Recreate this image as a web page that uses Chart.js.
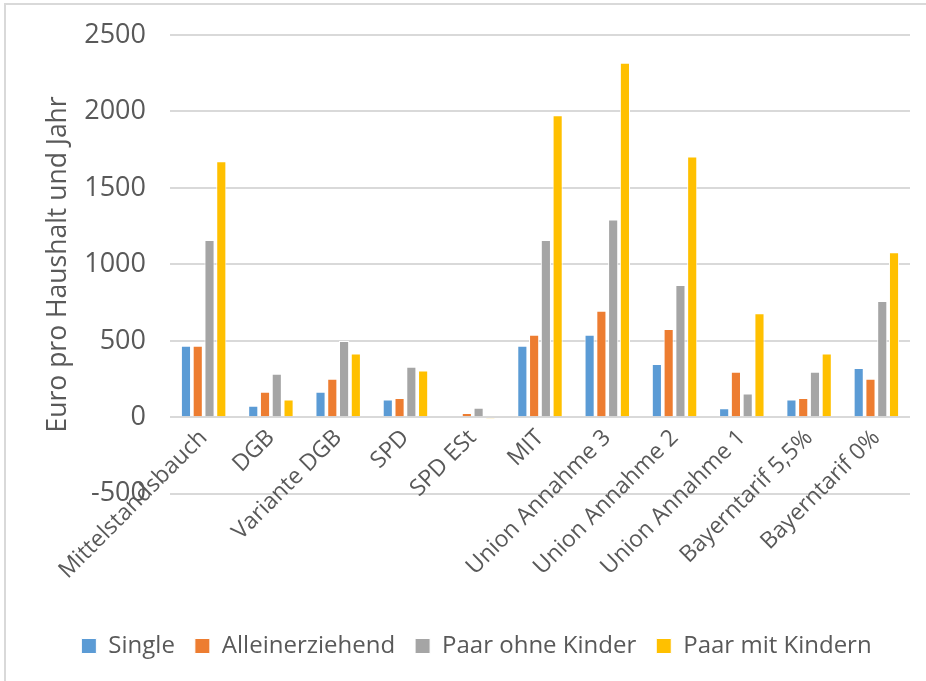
<!DOCTYPE html>
<html>
<head>
<meta charset="utf-8">
<script src="https://cdn.jsdelivr.net/npm/chart.js@4.4.1/dist/chart.umd.min.js"></script>
<style>
  html, body { margin: 0; padding: 0; background: #fff; }
  #frame {
    position: absolute; left: 4px; top: 3px;
    width: 920px; height: 676px;
    border-left: 2px solid #d9d9d9; border-top: 2px solid #d9d9d9;
  }
  canvas { display: block; }
</style>
</head>
<body>
<div id="frame"><canvas id="chart" width="920" height="676"></canvas></div>
<script>
// Kategorien und Werte (Euro pro Haushalt und Jahr)
const categories = ["Mittelstandsbauch", "DGB", "Variante DGB", "SPD", "SPD ESt", "MIT",
  "Union Annahme 3", "Union Annahme 2", "Union Annahme 1", "Bayerntarif 5,5%", "Bayerntarif 0%"];
const single = [468, 75, 167, 117, 0, 468, 540, 348, 60, 117, 322];
const alleinerziehend = [468, 167, 252, 126, 29, 540, 697, 577, 298, 126, 252];
const paarOhneKinder = [1160, 285, 499, 330, 62, 1160, 1293, 865, 156, 298, 760];
const paarMitKindern = [1674, 117, 418, 307, -10, 1975, 2318, 1705, 680, 418, 1079];
const yTicks = [-500, 0, 500, 1000, 1500, 2000, 2500];

const textColor = '#595959';
const gridColor = '#d9d9d9';
const font = 'Open Sans';

function series(label, data, color) {
  return {
    label: label,
    data: data,
    backgroundColor: color,
    borderColor: '#ffffff',
    borderWidth: 1,
    categoryPercentage: 0.7,
    barPercentage: 0.86
  };
}

const ctx = document.getElementById('chart').getContext('2d');
new Chart(ctx, {
  type: 'bar',
  data: {
    labels: categories,
    datasets: [
      series('Single', single, '#5b9bd5'),
      series('Alleinerziehend', alleinerziehend, '#ed7d31'),
      series('Paar ohne Kinder', paarOhneKinder, '#a5a5a5'),
      series('Paar mit Kindern', paarMitKindern, '#ffc000')
    ]
  },
  options: {
    responsive: false,
    animation: false,
    layout: { padding: { left: 37, right: 16, top: 30, bottom: 13 } },
    scales: {
      x: {
        // x-Achse sitzt bei 0, belegt keinen Platz im Layout
        position: { y: 0 },
        grid: { display: false, drawTicks: false },
        border: { display: false },
        ticks: {
          color: textColor,
          font: { family: font, size: 23 },
          minRotation: 45,
          maxRotation: 45,
          padding: 7,
          autoSkip: false
        }
      },
      y: {
        min: -500,
        max: 2500,
        afterBuildTicks: (scale) => { scale.ticks = yTicks.map(v => ({ value: v })); },
        afterFit: (scale) => {
          scale.width = 127;
          // Tick-Abstand soll die Zeichenfläche oben nicht verkleinern
          scale.paddingTop = 0;
          scale.paddingBottom = 0;
        },
        grid: { color: gridColor, lineWidth: 2, drawTicks: false },
        border: { display: false },
        ticks: {
          color: textColor,
          font: { family: font, size: 27 },
          padding: 24,
          callback: (v) => String(v)
        },
        title: {
          display: true,
          text: 'Euro pro Haushalt und Jahr',
          color: textColor,
          font: { family: font, size: 26.5 },
          padding: { top: 0, bottom: 0 }
        }
      }
    },
    plugins: {
      legend: {
        position: 'bottom',
        // leerer Titel schafft Platz für die schrägen Achsenbeschriftungen
        title: { display: true, text: ' ', font: { size: 1 }, padding: { top: 119, bottom: 0 } },
        labels: {
          color: textColor,
          font: { family: font, size: 24 },
          boxWidth: 15,
          boxHeight: 15,
          padding: 20
        }
      },
      tooltip: { enabled: false }
    }
  }
});
</script>
</body>
</html>
